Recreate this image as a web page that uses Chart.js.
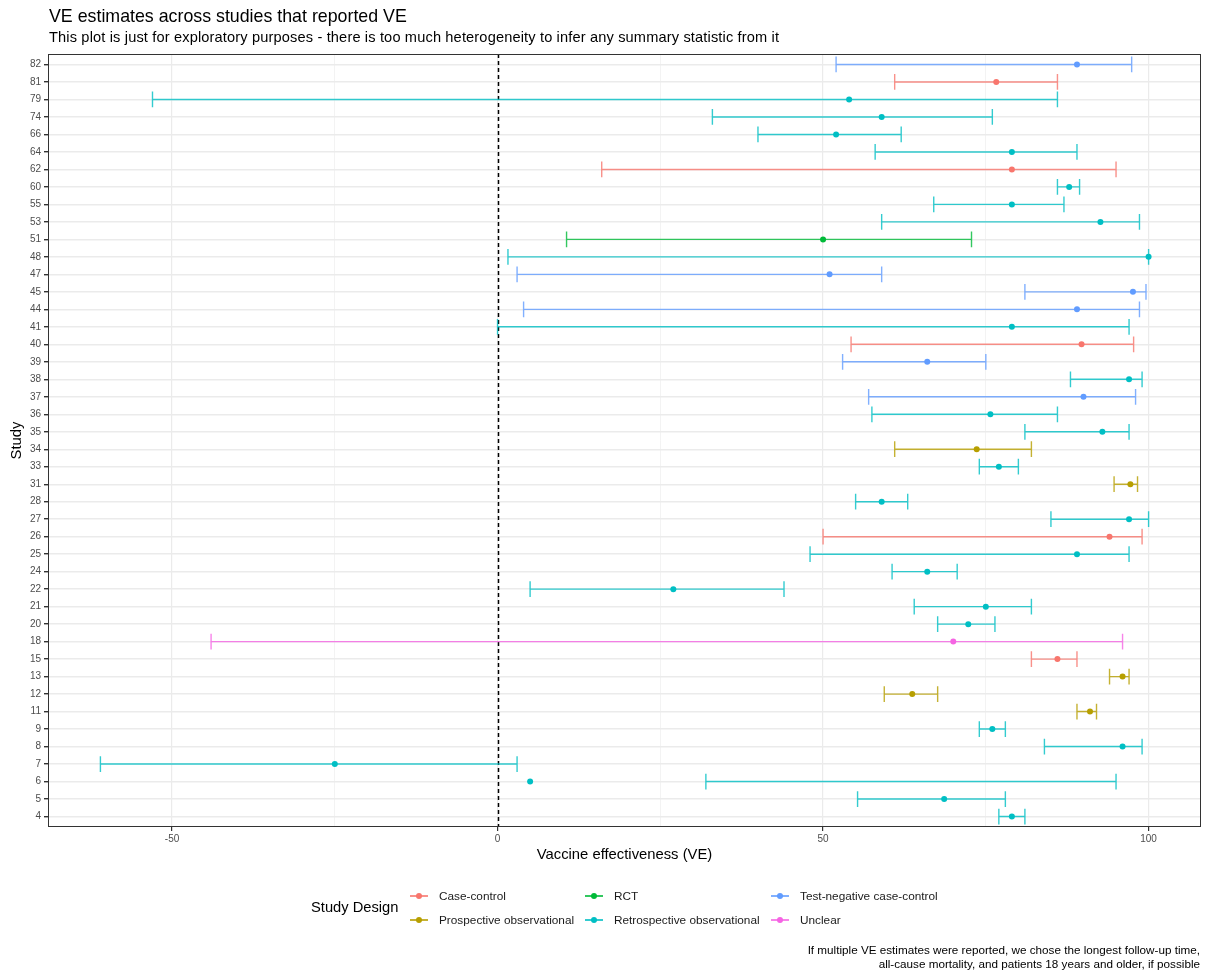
<!DOCTYPE html>
<html>
<head>
<meta charset="utf-8">
<script src="https://cdn.jsdelivr.net/npm/chart.js@4.4.1/dist/chart.umd.min.js"></script>
<style>
  body { margin: 0; background: #fff; font-family: 'Liberation Sans', Arial, sans-serif; }
  #wrap { position: relative; width: 1207px; height: 971px; overflow: hidden; }
  #box { position: absolute; left: 0; top: 0; width: 1207px; height: 971px; }
  .txt { position: absolute; white-space: nowrap; color: #000; }
  #title { left: 49px; top: 6px; font-size: 17.8px; line-height: 20px; }
  #subtitle { left: 49px; top: 29px; font-size: 14.6px; line-height: 17px; letter-spacing: 0.15px; }
  #legTitle { left: 311px; top: 899px; font-size: 14.7px; line-height: 17px; }
  .key { position: absolute; width: 18px; height: 10px; }
  .key .ln { position: absolute; left: 0; top: 4px; width: 18px; height: 1.5px; }
  .key .dt { position: absolute; left: 6px; top: 2px; width: 6px; height: 6px; border-radius: 50%; }
  .leg { font-size: 11.8px; line-height: 14px; color: #1a1a1a; }
  #caption { right: 7px; top: 943px; font-size: 11.7px; text-align: right; line-height: 13.5px; }
</style>
</head>
<body>
<div id="wrap">
  <div id="box"><canvas id="veChart"></canvas></div>
  <div class="txt" id="title">VE estimates across studies that reported VE</div>
  <div class="txt" id="subtitle">This plot is just for exploratory purposes - there is too much heterogeneity to infer any summary statistic from it</div>
  <div class="txt" id="legTitle">Study Design</div>
  <div class="txt" id="caption">If multiple VE estimates were reported, we chose the longest follow-up time,<br>all-cause mortality, and patients 18 years and older, if possible</div>
</div>
<script>
// study labels, top to bottom
const studies = ['82','81','79','74','66','64','62','60','55','53','51','48','47','45','44','41','40','39','38','37','36','35','34','33','31','28','27','26','25','24','22','21','20','18','15','13','12','11','9','8','7','6','5','4'];
// CC case-control, PO prospective, RCT, RO retrospective, TN test-negative, U unclear
const design = ['TN','CC','RO','RO','RO','RO','CC','RO','RO','RO','RCT','RO','TN','TN','TN','RO','CC','TN','RO','TN','RO','RO','PO','RO','PO','RO','RO','CC','RO','RO','RO','RO','RO','U','CC','PO','PO','PO','RO','RO','RO','RO','RO','RO'];
const ve    = [89, 76.6, 54, 59, 52, 79, 79, 87.8, 79, 92.6, 50, 100, 51, 97.6, 89, 79, 89.7, 66, 97, 90, 75.7, 92.9, 73.6, 77, 97.2, 59, 97, 94, 89, 66, 27, 75, 72.3, 70, 86, 96, 63.7, 91, 76, 96, -25, 5, 68.6, 79];
const lower = [52, 61, -53, 33, 40, 58, 16, 86, 67, 59, 10.6, 1.6, 3, 81, 4, 0, 54.3, 53, 88, 57, 57.5, 81, 61, 74, 94.7, 55, 85, 50, 48, 60.6, 5, 64, 67.6, -44, 82, 94, 59.4, 89, 74, 84, -61, 32, 55.3, 77];
const upper = [97.4, 86, 86, 76, 62, 89, 95, 89.4, 87, 98.6, 72.8, 100, 59, 99.6, 98.6, 97, 97.7, 75, 99, 98, 86, 97, 82, 80, 98.3, 63, 100, 99, 97, 70.6, 44, 82, 76.4, 96, 89, 97, 67.6, 92, 78, 99, 3, 95, 78, 81];

const designCodes = ['CC','PO','RCT','RO','TN','U'];
const designNames = ['Case-control','Prospective observational','RCT','Retrospective observational','Test-negative case-control','Unclear'];
const designColors = ['#F8766D','#B79F00','#00BA38','#00BFC4','#619CFF','#F564E3'];
const xMajor = [-50, 0, 50, 100];
const xMinor = [-25, 25, 75];

function withAlpha(hex, a) {
  const n = parseInt(hex.slice(1), 16);
  return `rgba(${(n >> 16) & 255},${(n >> 8) & 255},${n & 255},${a})`;
}

// ggplot-like 5% expansion of the data range
const lo = Math.min(...lower, ...ve), hi = Math.max(...upper, ...ve);
const pad = (hi - lo) * 0.05;

const datasets = designCodes.map((code, k) => ({
  label: designNames[k],
  data: studies.map((s, i) => ({ x: ve[i], y: i, lo: lower[i], hi: upper[i], code: design[i] })).filter(p => p.code === code),
  pointRadius: 3,
  pointHoverRadius: 3,
  pointBorderWidth: 0,
  pointBackgroundColor: designColors[k],
  barColor: withAlpha(designColors[k], 0.8)
}));

const zeroLine = {
  id: 'zeroLine',
  beforeDatasetsDraw(chart) {
    const { ctx, chartArea, scales: { x } } = chart;
    const px = Math.round(x.getPixelForValue(0)) + 0.5;
    ctx.save();
    ctx.strokeStyle = '#000';
    ctx.lineWidth = 1.5;
    ctx.setLineDash([4, 3]);
    ctx.beginPath();
    ctx.moveTo(px, chartArea.top);
    ctx.lineTo(px, chartArea.bottom);
    ctx.stroke();
    ctx.restore();
  }
};

const errorBars = {
  id: 'errorBars',
  beforeDatasetsDraw(chart) {
    const { ctx, scales: { x, y } } = chart;
    ctx.save();
    ctx.lineWidth = 1.4;
    chart.data.datasets.forEach(ds => {
      ctx.strokeStyle = ds.barColor;
      ds.data.forEach(p => {
        const py = y.getPixelForValue(p.y);
        const h = Math.abs(y.getPixelForValue(p.y + 0.45) - py);
        const x0 = x.getPixelForValue(p.lo), x1 = x.getPixelForValue(p.hi);
        ctx.beginPath();
        ctx.moveTo(x0, py); ctx.lineTo(x1, py);
        ctx.moveTo(x0, py - h); ctx.lineTo(x0, py + h);
        ctx.moveTo(x1, py - h); ctx.lineTo(x1, py + h);
        ctx.stroke();
      });
    });
    ctx.restore();
  }
};

const panelBorder = {
  id: 'panelBorder',
  afterDraw(chart) {
    const { ctx, chartArea: a } = chart;
    ctx.save();
    ctx.strokeStyle = '#333333';
    ctx.lineWidth = 1;
    ctx.strokeRect(Math.round(a.left) + 0.5, Math.round(a.top) + 0.5, Math.round(a.right - a.left) - 1, Math.round(a.bottom - a.top) - 1);
    ctx.restore();
  }
};

new Chart(document.getElementById('veChart').getContext('2d'), {
  type: 'scatter',
  data: { datasets },
  options: {
    responsive: true, maintainAspectRatio: false, animation: false,
    layout: { padding: { left: 0, top: 54, right: 6, bottom: 101 } },
    plugins: { legend: { display: false }, tooltip: { enabled: false } },
    scales: {
      x: {
        type: 'linear', min: lo - pad, max: hi + pad,
        afterBuildTicks: (s) => { s.ticks = [...xMinor, ...xMajor].sort((a, b) => a - b).map(v => ({ value: v })); },
        afterFit: (s) => { s.height = 43; },
        border: { display: false },
        grid: {
          color: '#EBEBEB',
          lineWidth: (c) => xMajor.includes(c.tick && c.tick.value) ? 1.2 : 0.6,
          tickColor: (c) => xMajor.includes(c.tick && c.tick.value) ? '#333333' : 'rgba(0,0,0,0)',
          tickLength: 4
        },
        ticks: {
          autoSkip: false, maxRotation: 0, padding: 2, color: '#4D4D4D',
          font: { family: 'Liberation Sans', size: 10 },
          callback: (v) => xMajor.includes(v) ? String(v) : ''
        },
        title: { display: true, text: 'Vaccine effectiveness (VE)', color: '#000', font: { family: 'Liberation Sans', size: 14.8 }, padding: { top: 0, bottom: 6 } }
      },
      y: {
        type: 'linear', reverse: true, min: -0.6, max: studies.length - 1 + 0.6,
        afterBuildTicks: (s) => { s.ticks = studies.map((_, i) => ({ value: i })); },
        afterFit: (s) => { s.width = 48; },
        border: { display: false },
        grid: { color: '#EBEBEB', lineWidth: 1.4, tickColor: '#333333', tickLength: 4 },
        ticks: {
          autoSkip: false, padding: 3, color: '#4D4D4D',
          font: { family: 'Liberation Sans', size: 10 },
          callback: (v) => studies[v]
        },
        title: { display: true, text: 'Study', color: '#000', font: { family: 'Liberation Sans', size: 14.8 }, padding: { top: 8, bottom: 0 } }
      }
    }
  },
  plugins: [zeroLine, errorBars, panelBorder]
});

// legend, ggplot style: 3 columns x 2 rows, filled by column
const wrap = document.getElementById('wrap');
const keyLeft = [410, 585, 771];
const rowY = [896, 920];
designNames.forEach((name, k) => {
  const col = Math.floor(k / 2), row = k % 2;
  const key = document.createElement('div');
  key.className = 'key';
  key.style.left = keyLeft[col] + 'px';
  key.style.top = (rowY[row] - 5) + 'px';
  key.innerHTML = `<div class="ln" style="background:${withAlpha(designColors[k], 0.8)}"></div><div class="dt" style="background:${designColors[k]}"></div>`;
  wrap.appendChild(key);
  const lab = document.createElement('div');
  lab.className = 'txt leg';
  lab.textContent = name;
  lab.style.left = (keyLeft[col] + 29) + 'px';
  lab.style.top = (rowY[row] - 7) + 'px';
  wrap.appendChild(lab);
});
</script>
</body>
</html>
